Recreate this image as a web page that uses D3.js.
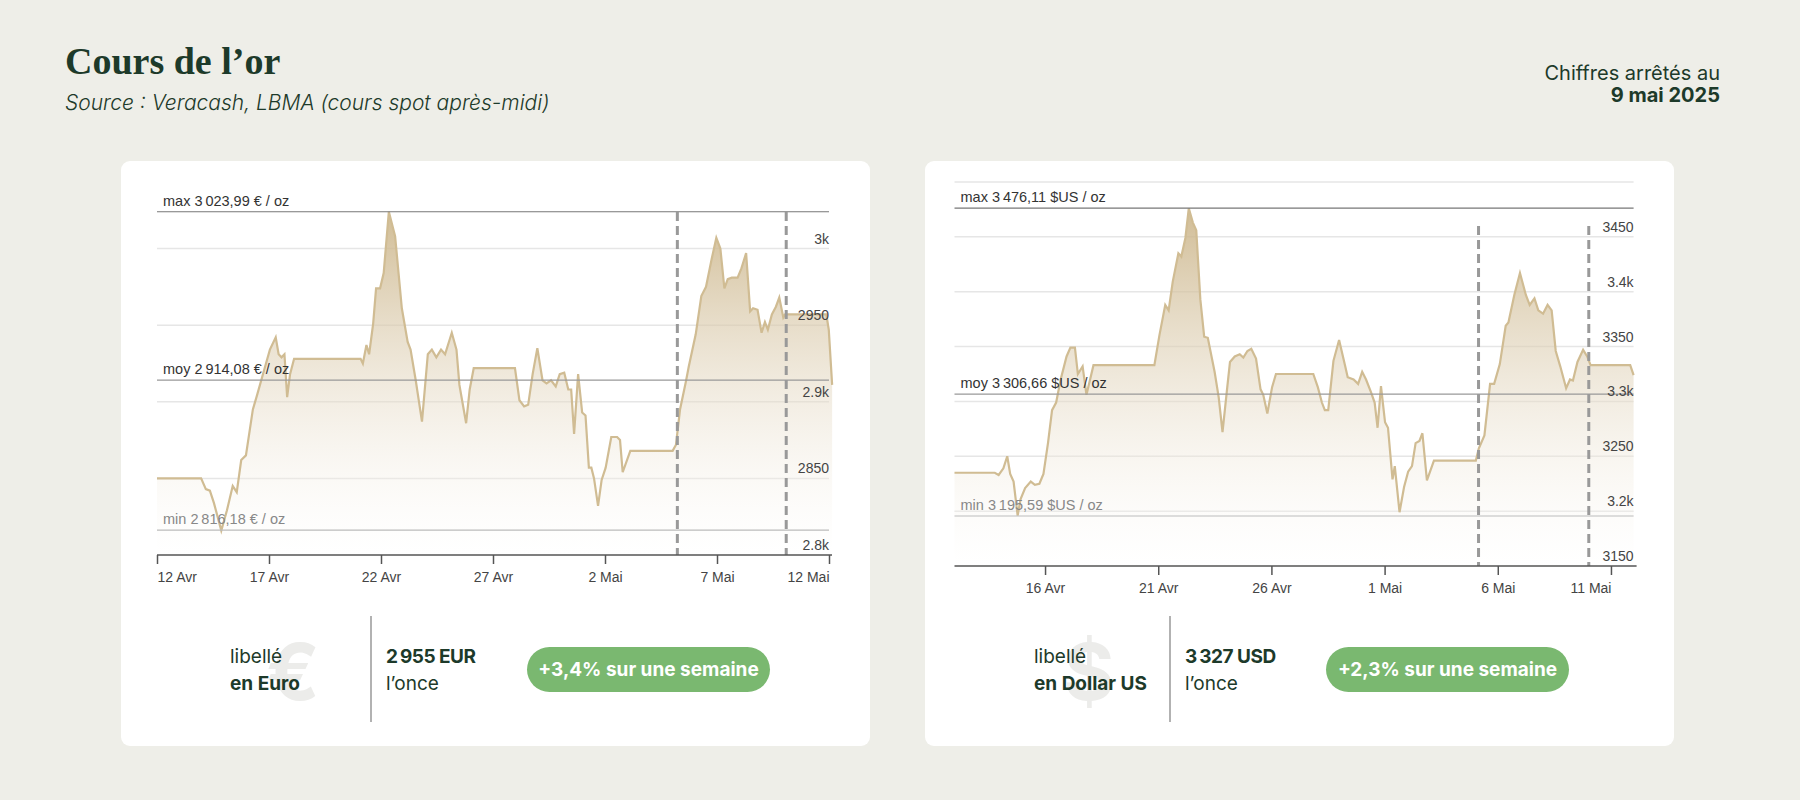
<!DOCTYPE html>
<html><head><meta charset="utf-8">
<script src="https://cdn.jsdelivr.net/npm/d3@7"></script>
<style>
body{margin:0;background:#eeeee8;}
svg{display:block;font-family:Inter,"Noto Sans",sans-serif;}
</style></head>
<body><svg id="chart" width="1800" height="800"></svg>
<script>
// days after 12 Apr 2025 and afternoon spot price
var eurDays = [0,1.97,2.18,2.36,2.54,2.87,3.12,3.38,3.56,3.76,3.97,4.28,4.48,4.79,5.04,5.30,5.43,5.56,5.69,5.81,5.94,6.12,9.09,9.19,9.35,9.47,9.65,9.78,9.96,10.12,10.35,10.63,10.93,11.19,11.32,11.55,11.83,12.09,12.27,12.47,12.68,12.86,13.16,13.37,13.50,13.62,13.80,13.96,14.14,15.98,16.18,16.39,16.57,16.77,16.98,17.21,17.39,17.59,17.80,17.98,18.18,18.36,18.49,18.62,18.80,18.98,19.13,19.28,19.39,19.51,19.69,19.85,20.03,20.28,20.54,20.67,20.79,21.13,23.02,23.17,23.35,23.61,23.74,24.05,24.30,24.51,24.76,24.97,25.15,25.33,25.48,25.66,25.92,26.09,26.30,26.48,26.61,26.81,26.99,27.14,27.27,27.45,27.63,27.78,27.96,28.04,29.88,29.99,30.14];
var eurVals = [2850,2850,2843,2842,2834,2816,2829,2845,2841,2862,2865,2895,2905,2921,2934,2942,2931,2929,2931,2903,2918,2928,2928,2925,2937,2931,2951,2974,2974,2984,3024,3008,2961,2939,2934,2914,2887,2931,2934,2929,2934,2931,2945,2934,2911,2901,2886,2908,2922,2922,2901,2897,2898,2918,2935,2914,2912,2914,2910,2918,2919,2908,2908,2879,2918,2893,2891,2857,2857,2850,2832,2849,2857,2877,2877,2875,2854,2868,2868,2872,2895,2913,2923,2944,2969,2975,2993,3007,3000,2974,2980,2981,2981,2987,2997,2959,2961,2960,2945,2952,2947,2957,2962,2968,2955,2957,2957,2947,2911];
var usdDays = [0,1.78,1.95,2.16,2.33,2.46,2.61,2.79,2.92,3.12,3.37,3.55,3.75,3.93,4.13,4.31,4.49,4.69,4.95,5.12,5.32,5.45,5.66,5.83,6.14,8.83,9.05,9.31,9.46,9.64,9.89,10.02,10.2,10.35,10.53,10.68,10.86,11.03,11.19,11.49,11.67,11.84,12.05,12.17,12.38,12.6,12.76,12.94,13.11,13.32,13.52,13.64,13.82,14.03,14.2,15.85,16.05,16.23,16.36,16.51,16.74,16.99,17.25,17.37,17.63,17.83,18.01,18.18,18.39,18.56,18.69,18.84,19.02,19.15,19.35,19.45,19.66,19.86,20.04,20.21,20.37,20.54,20.67,20.87,21.18,23.03,23.16,23.41,23.66,23.84,24.09,24.35,24.47,24.73,24.98,25.24,25.41,25.62,25.79,26.0,26.2,26.38,26.56,26.76,27.02,27.19,27.32,27.52,27.77,27.95,28.1,29.85,30.0];
var usdVals = [3235,3235,3233,3239,3250,3234,3227,3196,3211,3221,3227,3224,3225,3234,3262,3292,3299,3320,3341,3349,3349,3325,3332,3306,3333,3333,3360,3388,3383,3409,3435,3432,3449,3476,3463,3456,3393,3359,3358,3327,3304,3272,3313,3336,3341,3343,3340,3346,3348,3339,3311,3306,3289,3313,3325,3325,3313,3299,3292,3292,3337,3356,3333,3322,3320,3316,3327,3320,3309,3299,3276,3314,3281,3276,3229,3241,3199,3222,3236,3241,3262,3264,3271,3228,3246,3246,3257,3269,3316,3316,3334,3369,3372,3397,3417,3397,3388,3394,3383,3380,3388,3383,3346,3332,3312,3320,3319,3336,3347,3341,3333,3333,3324];

var eurTicks = ["2025-04-12","2025-04-17","2025-04-22","2025-04-27","2025-05-02","2025-05-07","2025-05-12"];
var usdTicks = ["2025-04-16","2025-04-21","2025-04-26","2025-05-01","2025-05-06","2025-05-11"];
var eurGrid = [2850, 2900, 2950, 3000];
var usdGrid = [3200, 3250, 3300, 3350, 3400, 3450, 3500];
var eurYLabels = [[2800,"2.8k"],[2850,"2850"],[2900,"2.9k"],[2950,"2950"],[3000,"3k"]];
var usdYLabels = [[3150,"3150"],[3200,"3.2k"],[3250,"3250"],[3300,"3.3k"],[3350,"3350"],[3400,"3.4k"],[3450,"3450"]];
var eurStats = {max: 3023.99, moy: 2914.08, min: 2816.18, unit: "€ / oz"};
var usdStats = {max: 3476.11, moy: 3306.66, min: 3195.59, unit: "$US / oz"};
var eurWeek = [23.23, 28.09];
var usdWeek = [23.15, 28.02];
var moisFr = {4: "Avr", 5: "Mai"};

var svg = d3.select("#chart");
var ink = "#1d3a2a";
var start = new Date(2025, 3, 12);
function dayDate(d) { return new Date(start.getTime() + d * 864e5); }
function frNum(v) {
	var s = v.toFixed(2).replace(".", ",");
	var p = s.split(",");
	return p[0].replace(/\B(?=(\d{3})+(?!\d))/g, "\u202f") + "," + p[1];
}

var defs = svg.append("defs");
var grad = defs.append("linearGradient").attr("id", "gold").attr("x1", 0).attr("y1", 0).attr("x2", 0).attr("y2", 1);
grad.append("stop").attr("offset", "0%").attr("stop-color", "#c8b082").attr("stop-opacity", 0.85);
grad.append("stop").attr("offset", "100%").attr("stop-color", "#ffffff").attr("stop-opacity", 0.2);

// header
svg.append("text").attr("x", 65).attr("y", 74).attr("fill", ink)
	.style("font-family", "'Liberation Serif', serif").style("font-size", "38px").style("font-weight", 700)
	.text("Cours de l\u2019or");
svg.append("text").attr("x", 65).attr("y", 110).attr("fill", ink)
	.style("font-size", "21px").style("font-style", "italic").style("font-weight", 300)
	.text("Source : Veracash, LBMA (cours spot apr\u00e8s-midi)");
svg.append("text").attr("x", 1720).attr("y", 80).attr("text-anchor", "end").attr("fill", ink)
	.style("font-size", "20px").text("Chiffres arr\u00eat\u00e9s au");
svg.append("text").attr("x", 1720).attr("y", 102).attr("text-anchor", "end").attr("fill", ink)
	.style("font-size", "20px").style("font-weight", 700).text("9 mai 2025");

function panel(o) {
	var g = svg.append("g");
	g.append("rect").attr("x", o.cx).attr("y", 161).attr("width", 749).attr("height", 585)
		.attr("rx", 9).attr("fill", "#fff");

	var x = d3.scaleTime().domain([start, new Date(2025, 4, 12)]).range([o.x0, o.x1]);
	var y = d3.scaleLinear().domain(o.ydom).range([o.yb, o.yt]);

	g.selectAll(".grid").data(o.grid).enter().append("line")
		.attr("x1", o.x0).attr("x2", o.x1).attr("y1", d => y(d)).attr("y2", d => y(d))
		.attr("stroke", "#e6e6e6").attr("stroke-width", 1.5);

	var pts = o.days.map((d, i) => [dayDate(d), o.vals[i]]);
	g.append("path").datum(pts).attr("fill", "url(#gold)")
		.attr("d", d3.area().x(d => x(d[0])).y0(o.yb).y1(d => y(d[1])));
	g.append("path").datum(pts).attr("fill", "none").attr("stroke", "#d0bc93").attr("stroke-width", 2.2)
		.attr("d", d3.line().x(d => x(d[0])).y(d => y(d[1])));

	// stat lines
	[["max", "#777", "#333"], ["moy", "#999", "#333"], ["min", "#bbb", "#888"]].forEach(function(s) {
		var v = o.stats[s[0]];
		g.append("line").attr("x1", o.x0).attr("x2", o.x1).attr("y1", y(v)).attr("y2", y(v))
			.attr("stroke", s[1]).attr("stroke-width", 1.2);
		g.append("text").attr("x", o.x0 + 6).attr("y", y(v) - 6).attr("fill", s[2])
			.style("font-size", "14.5px").style("font-family", "'Liberation Sans', Arial, sans-serif")
			.text(s[0] + " " + frNum(v) + " " + o.stats.unit);
	});

	// y labels
	g.selectAll(".yl").data(o.ylabels).enter().append("text")
		.attr("x", o.x1).attr("y", d => y(d[0]) - 5).attr("text-anchor", "end").attr("fill", "#444")
		.style("font-size", "14px").style("font-family", "'Liberation Sans', Arial, sans-serif")
		.text(d => d[1]);

	// week markers
	g.selectAll(".wk").data(o.week).enter().append("line")
		.attr("x1", d => x(dayDate(d))).attr("x2", d => x(dayDate(d)))
		.attr("y1", o.dashTop).attr("y2", o.yb)
		.attr("stroke", "#999").attr("stroke-width", 3).attr("stroke-dasharray", "9,5");

	// x axis
	var ticks = o.ticks.map(t => d3.timeParse("%Y-%m-%d")(t));
	var ax = g.append("g").attr("transform", "translate(0," + o.yb + ")")
		.call(d3.axisBottom(x).tickValues(ticks).tickSize(9).tickSizeOuter(0)
			.tickFormat(d => d.getDate() + " " + moisFr[d.getMonth() + 1]));
	ax.select(".domain").attr("stroke", "#555").attr("stroke-width", 1.5).attr("d", "M" + o.x0 + ",0H" + (o.x1 + 3));
	ax.selectAll(".tick line").attr("stroke", "#555").attr("stroke-width", 1.5);
	ax.selectAll(".tick text").attr("fill", "#444").attr("dy", "1.1em")
		.style("font-size", "14px").style("font-family", "'Liberation Sans', Arial, sans-serif")
		.attr("text-anchor", function(d) {
			var px = x(d);
			if (px - o.x0 < 20) return "start";
			if (o.x1 - px < 25) return "end";
			return "middle";
		});

	// footer
	g.append("text").attr("x", o.cx + o.sym).attr("y", 700).attr("fill", "#ececea")
		.style("font-size", "78px").style("font-weight", 700).attr("text-anchor", "middle").text(o.symbol);
	g.append("text").attr("x", o.cx + 109).attr("y", 663).attr("fill", ink).style("font-size", "19px").text("libell\u00e9");
	g.append("text").attr("x", o.cx + 109).attr("y", 690).attr("fill", ink).style("font-size", "19px")
		.style("font-weight", 700).text(o.label);
	g.append("line").attr("x1", o.cx + o.div).attr("x2", o.cx + o.div).attr("y1", 616).attr("y2", 722)
		.attr("stroke", "#999").attr("stroke-width", 1.5);
	g.append("text").attr("x", o.cx + o.div + 15).attr("y", 663).attr("fill", ink).style("font-size", "19px")
		.style("font-weight", 700).style("letter-spacing", "-0.5px").text(o.price);
	g.append("text").attr("x", o.cx + o.div + 15).attr("y", 690).attr("fill", ink).style("font-size", "19px").text("l\u2019once");
	g.append("rect").attr("x", o.cx + o.pill).attr("y", 647).attr("width", 243).attr("height", 45).attr("rx", 22.5)
		.attr("fill", "#7ab870");
	g.append("text").attr("x", o.cx + o.pill + 121.5).attr("y", 676).attr("text-anchor", "middle").attr("fill", "#fff")
		.style("font-size", "19px").style("font-weight", 700).text(o.change);
}

panel({cx: 121, x0: 157, x1: 829, yb: 555, yt: 248.5, ydom: [2800, 3000], days: eurDays, vals: eurVals,
	grid: eurGrid, ylabels: eurYLabels, stats: eurStats, week: eurWeek, ticks: eurTicks, dashTop: 212,
	symbol: "\u20ac", sym: 172, label: "en Euro", div: 250, price: "2\u202f955 EUR", pill: 406,
	change: "+3,4% sur une semaine"});
panel({cx: 925, x0: 954.5, x1: 1633.6, yb: 566, yt: 182, ydom: [3150, 3500], days: usdDays, vals: usdVals,
	grid: usdGrid, ylabels: usdYLabels, stats: usdStats, week: usdWeek, ticks: usdTicks, dashTop: 226,
	symbol: "$", sym: 164, label: "en Dollar US", div: 245, price: "3\u202f327 USD", pill: 401,
	change: "+2,3% sur une semaine"});
</script>
</body></html>
